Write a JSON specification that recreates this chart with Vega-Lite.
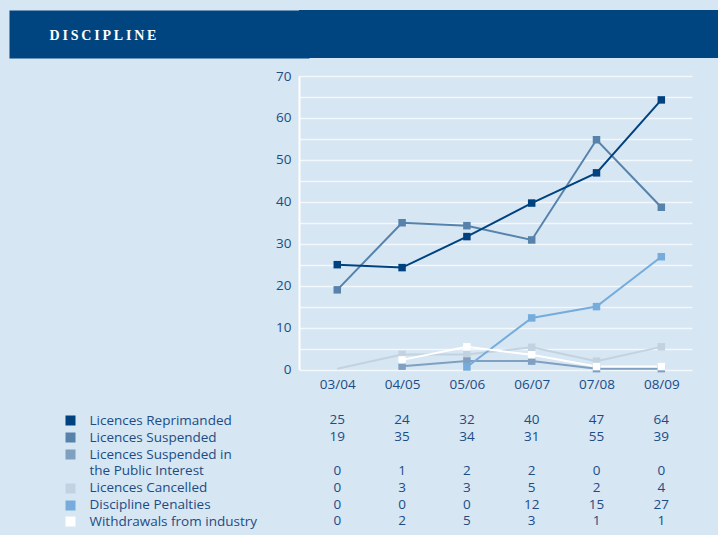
{
  "$schema": "https://vega.github.io/schema/vega-lite/v6.json",
  "background": "#d6e6f3",
  "padding": {"left": 9, "top": 10, "right": 0, "bottom": 7},
  "spacing": 11,
  "config": {"view": {"stroke": null}, "font": "Open Sans", "axis": {"labelFont": "Open Sans"}},
  "datasets": {
    "plot": [
      {"s": "Licences Cancelled", "year": "03/04", "v": 0.2},
      {"s": "Licences Cancelled", "year": "04/05", "v": 3.6},
      {"s": "Licences Cancelled", "year": "05/06", "v": 3.6},
      {"s": "Licences Cancelled", "year": "06/07", "v": 5.3},
      {"s": "Licences Cancelled", "year": "07/08", "v": 2.0},
      {"s": "Licences Cancelled", "year": "08/09", "v": 5.4},
      {"s": "Licences Suspended in the Public Interest", "year": "04/05", "v": 0.8},
      {"s": "Licences Suspended in the Public Interest", "year": "05/06", "v": 2.0},
      {"s": "Licences Suspended in the Public Interest", "year": "06/07", "v": 2.0},
      {"s": "Licences Suspended in the Public Interest", "year": "07/08", "v": 0.2},
      {"s": "Licences Suspended in the Public Interest", "year": "08/09", "v": 0.2},
      {"s": "Discipline Penalties", "year": "05/06", "v": 0.6},
      {"s": "Discipline Penalties", "year": "06/07", "v": 12.3},
      {"s": "Discipline Penalties", "year": "07/08", "v": 15.0},
      {"s": "Discipline Penalties", "year": "08/09", "v": 26.9},
      {"s": "Withdrawals from industry", "year": "04/05", "v": 2.3},
      {"s": "Withdrawals from industry", "year": "05/06", "v": 5.4},
      {"s": "Withdrawals from industry", "year": "06/07", "v": 3.5},
      {"s": "Withdrawals from industry", "year": "07/08", "v": 0.7},
      {"s": "Withdrawals from industry", "year": "08/09", "v": 0.7},
      {"s": "Licences Suspended", "year": "03/04", "v": 19.0},
      {"s": "Licences Suspended", "year": "04/05", "v": 35.0},
      {"s": "Licences Suspended", "year": "05/06", "v": 34.3},
      {"s": "Licences Suspended", "year": "06/07", "v": 30.9},
      {"s": "Licences Suspended", "year": "07/08", "v": 54.8},
      {"s": "Licences Suspended", "year": "08/09", "v": 38.7},
      {"s": "Licences Reprimanded", "year": "03/04", "v": 25.0},
      {"s": "Licences Reprimanded", "year": "04/05", "v": 24.3},
      {"s": "Licences Reprimanded", "year": "05/06", "v": 31.7},
      {"s": "Licences Reprimanded", "year": "06/07", "v": 39.7},
      {"s": "Licences Reprimanded", "year": "07/08", "v": 46.9},
      {"s": "Licences Reprimanded", "year": "08/09", "v": 64.3}
    ],
    "table": [
      {"line": "Licences Reprimanded", "year": "03/04", "n": 25},
      {"line": "Licences Reprimanded", "year": "04/05", "n": 24},
      {"line": "Licences Reprimanded", "year": "05/06", "n": 32},
      {"line": "Licences Reprimanded", "year": "06/07", "n": 40},
      {"line": "Licences Reprimanded", "year": "07/08", "n": 47},
      {"line": "Licences Reprimanded", "year": "08/09", "n": 64},
      {"line": "Licences Suspended", "year": "03/04", "n": 19},
      {"line": "Licences Suspended", "year": "04/05", "n": 35},
      {"line": "Licences Suspended", "year": "05/06", "n": 34},
      {"line": "Licences Suspended", "year": "06/07", "n": 31},
      {"line": "Licences Suspended", "year": "07/08", "n": 55},
      {"line": "Licences Suspended", "year": "08/09", "n": 39},
      {"line": "the Public Interest", "year": "03/04", "n": 0},
      {"line": "the Public Interest", "year": "04/05", "n": 1},
      {"line": "the Public Interest", "year": "05/06", "n": 2},
      {"line": "the Public Interest", "year": "06/07", "n": 2},
      {"line": "the Public Interest", "year": "07/08", "n": 0},
      {"line": "the Public Interest", "year": "08/09", "n": 0},
      {"line": "Licences Cancelled", "year": "03/04", "n": 0},
      {"line": "Licences Cancelled", "year": "04/05", "n": 3},
      {"line": "Licences Cancelled", "year": "05/06", "n": 3},
      {"line": "Licences Cancelled", "year": "06/07", "n": 5},
      {"line": "Licences Cancelled", "year": "07/08", "n": 2},
      {"line": "Licences Cancelled", "year": "08/09", "n": 4},
      {"line": "Discipline Penalties", "year": "03/04", "n": 0},
      {"line": "Discipline Penalties", "year": "04/05", "n": 0},
      {"line": "Discipline Penalties", "year": "05/06", "n": 0},
      {"line": "Discipline Penalties", "year": "06/07", "n": 12},
      {"line": "Discipline Penalties", "year": "07/08", "n": 15},
      {"line": "Discipline Penalties", "year": "08/09", "n": 27},
      {"line": "Withdrawals from industry", "year": "03/04", "n": 0},
      {"line": "Withdrawals from industry", "year": "04/05", "n": 2},
      {"line": "Withdrawals from industry", "year": "05/06", "n": 5},
      {"line": "Withdrawals from industry", "year": "06/07", "n": 3},
      {"line": "Withdrawals from industry", "year": "07/08", "n": 1},
      {"line": "Withdrawals from industry", "year": "08/09", "n": 1}
    ]
  },
  "vconcat": [
    {
      "width": 419,
      "height": 48,
      "view": {"fill": "#00457f", "stroke": null},
      "data": {"values": [{"k": 0.5}]},
      "mark": {"type": "point", "opacity": 0, "size": 1},
      "encoding": {
        "y": {
          "field": "k", "type": "quantitative",
          "scale": {"domain": [0, 1]},
          "axis": {
            "labels": false, "ticks": false, "grid": false,
            "domain": true, "domainColor": "#00457f", "domainWidth": 300, "domainCap": "butt", "offset": 140,
            "title": "D\u2009I\u2009S\u2009C\u2009I\u2009P\u2009L\u2009I\u2009N\u2009E",
            "titleAngle": 0, "titleAlign": "left", "titleBaseline": "middle",
            "titleX": -110, "titleY": 25,
            "titleFont": "Liberation Serif", "titleFontWeight": "bold", "titleFontSize": 14, "titleColor": "#ffffff"
          }
        }
      }
    },
    {
      "width": 393,
      "height": 293.5,
      "data": {"name": "plot"},
      "encoding": {
        "x": {
          "field": "year", "type": "ordinal",
          "scale": {"type": "point", "domain": ["03/04", "04/05", "05/06", "06/07", "07/08", "08/09"], "padding": 0.532, "align": 0.555},
          "axis": {"title": null, "domain": false, "ticks": false, "grid": false, "labelAngle": 0, "labelPadding": 8, "labelFontSize": 13.5, "labelColor": "#1c4c84", "minExtent": 30.6}
        },
        "y": {
          "field": "v", "type": "quantitative",
          "scale": {"domain": [0, 70], "nice": false},
          "axis": {"title": null, "values": [0, 5, 10, 15, 20, 25, 30, 35, 40, 45, 50, 55, 60, 65, 70], "labelExpr": "datum.value % 10 === 0 ? datum.label : ''", "grid": true, "gridColor": "#f3f8fc", "gridWidth": 1.6, "domainColor": "#ffffff", "domainWidth": 2, "ticks": false, "labelPadding": 8, "labelFontSize": 13.5, "labelColor": "#1c4c84", "minExtent": 290}
        },
        "color": {
          "field": "s", "type": "nominal",
          "scale": {
            "domain": ["Licences Reprimanded", "Licences Suspended", "Licences Suspended in the Public Interest", "Licences Cancelled", "Discipline Penalties", "Withdrawals from industry"],
            "range": ["#00427f", "#5682ab", "#7fa0c0", "#c2d2e1", "#75acdb", "#ffffff"]
          },
          "legend": null
        }
      },
      "layer": [
        {"mark": {"type": "line", "strokeWidth": 2}},
        {
          "transform": [{"filter": "!(datum.s === 'Licences Cancelled' && datum.year === '03/04')"}],
          "mark": {"type": "square", "size": 56, "opacity": 1}
        }
      ]
    },
    {
      "width": 393,
      "height": 117.8,
      "data": {"name": "table"},
      "mark": {"type": "text", "fontSize": 13.5, "color": "#1c4c84", "baseline": "middle"},
      "encoding": {
        "x": {
          "field": "year", "type": "ordinal",
          "scale": {"type": "point", "domain": ["03/04", "04/05", "05/06", "06/07", "07/08", "08/09"], "padding": 0.532, "align": 0.555},
          "axis": null
        },
        "y": {
          "field": "line", "type": "ordinal",
          "scale": {"type": "point", "padding": 0.5, "domain": ["Licences Reprimanded", "Licences Suspended", "Licences Suspended in", "the Public Interest", "Licences Cancelled", "Discipline Penalties", "Withdrawals from industry"]},
          "axis": {
            "title": null, "orient": "left", "offset": 224, "domain": false, "grid": false,
            "ticks": true, "tickSize": 10, "tickWidth": 10,
            "tickColor": {
              "condition": [
                {"test": "datum.value === 'Licences Reprimanded'", "value": "#00427f"},
                {"test": "datum.value === 'Licences Suspended'", "value": "#5682ab"},
                {"test": "datum.value === 'Licences Suspended in'", "value": "#7fa0c0"},
                {"test": "datum.value === 'Licences Cancelled'", "value": "#c2d2e1"},
                {"test": "datum.value === 'Discipline Penalties'", "value": "#75acdb"},
                {"test": "datum.value === 'Withdrawals from industry'", "value": "#ffffff"}
              ],
              "value": "transparent"
            },
            "labelAlign": "left", "labelBaseline": "middle", "labelPadding": -24, "labelFontSize": 13.5, "labelColor": "#1c4c84", "labelLimit": 0, "minExtent": 66
          }
        },
        "text": {"field": "n", "type": "quantitative"}
      }
    }
  ]
}
